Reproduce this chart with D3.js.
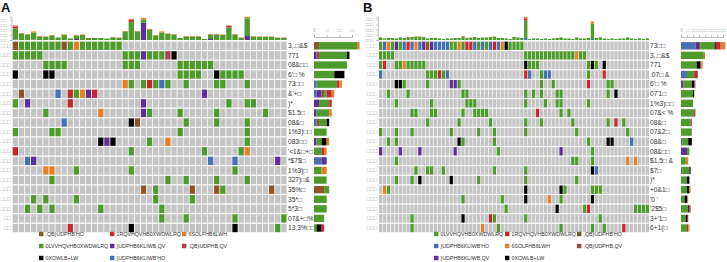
<!DOCTYPE html>
<html lang="en">
<head>
<meta charset="UTF-8">
<title>Oncoprint</title>
<style>
body { margin: 0; background: #fff; }
svg { font-family: "Liberation Sans", Arial, sans-serif; }
.axis path, .axis line { stroke: #999; stroke-width: 0.6; }
.axis text { fill: #aaa; font-size: 4.5px; }
</style>
</head>
<body>
<svg width="727" height="262"></svg>
<script src="https://cdnjs.cloudflare.com/ajax/libs/d3/7.8.5/d3.min.js"></script>
<script>
// codes: b FS_Del, p FS_Ins, n IF_Del, i IF_Ins, g Missense, k Multi, r Nonsense, o Splice
var typeKeys = ['b', 'p', 'n', 'i', 'g', 'k', 'r', 'o'];
var typeNames = {
    b: ")UDPHB6KLIWB'HO", p: ')UDPHB6KLIWB,QV', n: ",QB)UDPHB'HO", i: ',QB)UDPHB,QV',
    g: '0LVVHQVHB0XWDWLRQ', k: '0XOWLB+LW', r: '1RQVHQVHB0XWDWLRQ', o: '6SOLFHB6LWH'
};
var colors = {
    b: '#4670B3', p: '#5E3096', n: '#8E5428', i: '#B13D52',
    g: '#4E9A2C', k: '#000000', r: '#C62630', o: '#E3802A'
};

// ---------- panel A ----------
var genesA = ['3,.\u25A1&$', '771', '08&\u25A1\u25A1', "6'\u25A1 %", '73\u25A1\u25A1', "&'+\u25A1", ')*', '$1.5\u25A1',
    '08&\u25A1', '1%3)\u25A1\u25A1', '083\u25A1\u25A1', "'<1&\u25A1+\u25A1", '*$7$\u25A1', '1%3)\u25A1', '327)\u25A1&',
    '35%\u25A1', '35*\u25A1', '5*3\u25A1', '07&+\u25A1%', '13,3%\u25A1\u25A1'];
var pctA = ['\u25A1\u25A1\u25A1', '\u25A1\u25A1\u25A1', '\u25A1\u25A1\u25A1', '\u25A1\u25A1\u25A1', '\u25A1\u25A1\u25A1',
    '\u25A1\u25A1\u25A1', '\u25A1\u25A1\u25A1', '\u25A1\u25A1\u25A1', '\u25A1\u25A1\u25A1', '\u25A1\u25A1\u25A1',
    '\u25A1\u25A1\u25A1', '\u25A1\u25A1\u25A1', '\u25A1\u25A1\u25A1', '\u25A1\u25A1\u25A1', '\u25A1\u25A1\u25A1',
    '\u25A1\u25A1\u25A1', '\u25A1\u25A1\u25A1', '\u25A1\u25A1\u25A1', '\u25A1\u25A1', '\u25A1\u25A1'];
var mutA = [
    'ngggg gggng ogggg ggg.. ..... ..... ..... ..... .....',
    'ggggg ..... ..... ...gg gpggg ik... ..... ..... .....',
    '..... gggg. ..... ...gg g.... ..ggg ggg.. ..... .....',
    'k.... kk... ..... ..... ..... ..ggg g..kg ggg.. .....',
    '..... ..... ..... ...og .grgb g..g. ...gg ...g. .....',
    '.n... ..b.r gopr. ..... ..... ..... .p... ..... .....',
    'g.p.. ....r ..... ..... .p... ..... ..... g..gg .....',
    '..... g.... ....o ..... .pg.. ..g.. ...g. ..... .g...',
    '..... ...b. ..... ....k n.... ...g. ...g. ...g. .....',
    'g.... .gg.. ..... ..... ..... ..g.. ..... ...g. .....',
    '..... ..... ....k pk... ..g.. o.... ..... ...g. .....',
    'r.... ..... ..... ....g ..... ..... .g... ..go. .....',
    '..bp. ..... ..... ..... ..... ..... ..b.. .b... ...p.',
    '..... oo... g.... ....g ..... ..... ..... .g... .....',
    '..... .g... ..... ..... ..... g..g. ...g. ...g. .....',
    '..... ..... ..... ..... .n.g. ....n ...ng ..... ..n..',
    '...g. g.... g.... ..... ...g. ....g ..... ..... .....',
    '..g.g .g... ....g ..... ....g ..... ..... ..... .....',
    '..... ..... ..... ..... ....g ...g. ..... .g... ....g',
    '..... ....r ..... ....k ..... ..... ..... .k... ...g.'
];
// mutations per sample (top bars)
var topFsA  = [1,0,0,1,0, 0,0,0,0,0, 2,0,0,0,0, 0,0,0,0,0, 0,34,0,0,0, 0,0,0,0,0, 0,0,2,0,0, 0,0,0,8,0, 0,0,0,0,0];
var topMisA = [22,13,11,14,7, 6,9,5,10,3, 7,10,4,4,4, 3,5,4,17,36, 17,7,20,9,15, 12,11,4,7,7, 7,2,9,11,10, 25,11,4,35,7, 6,6,6,4,4];
var topNonA = [4,0,0,0,0, 0,0,0,0,0, 0,0,0,0,0, 0,0,0,0,4, 0,0,0,0,0, 0,0,0,0,0, 0,0,0,0,0, 3,0,0,0,0, 0,0,0,0,0];
var topSplA = [2,1,1,2,1, 1,1,0,1,0, 1,1,0,0,0, 0,1,1,1,2, 1,3,2,1,2, 1,1,0,1,1, 1,0,1,1,1, 1,1,1,3,1, 1,1,1,1,1];
var sideTicksA = [0, 5, 10, 15];
var sideTickLabelsA = ['0', '\u25A1', '\u25A1\u25A1', '\u25A1\u25A1'];
var legendA = ['n', 'r', 'o', 'g', 'p', 'i', 'k', 'b'];

// ---------- panel B ----------
var genesB = ['73\u25A1\u25A1', '3,.\u25A1&$', '771', '.07\u25A1 &', "6'\u25A1 %", "07'1\u25A1", '1%3)\u25A1\u25A1', '07&< %',
    '08&\u25A1', '07&2\u25A1', '08&\u25A1', '08&\u25A1\u25A1', '$1.5\u25A1 &', '$7\u25A1', ')*', '+0&1\u25A1', "'0 '",
    "'2$5\u25A1", "3+'1\u25A1", '6+1(\u25A1'];
var pctB = pctA.map(function() { return '\u25A1\u25A1\u25A1'; });
var mutB = [
    'gbogp gbrbo bpnpb bbbgg ogrrb gbgbr bokgg gg... ..... ..... ..... ..... ..... ....',
    'gggg. ..... ..... ..... ..... ..... ..... ..ggg ggggg ggggg ogg.. ..... ..... ....',
    'gr..g goggg gg... ..... ..... ..... ..... ..kgg g.... ..... ...gk g.k.. ..... ....',
    'b.... ..... ..ggg rgb.. ..... ..... ..... ..rb. .gbb. ..... ...g. ..r.. ..... ....',
    '....k kg... ..g.. ...pp g.... ..... ..... ..... .g..g ..... ...r. ...gg ..... ....',
    '..g.. ..g.. ..... ..... .gg.. ..... ..... ..g.g .g... gg... ..... ...g. k.... ....',
    '....g ..... ...g. ..... ..ggg ..... ..... ..g.. ..g.. gg... ...g. ..... ..... ....',
    '..... ...gg ...gg ..... .g..g ggg.. ..... ..... r.... .g.g. ..... ..... ..... ....',
    '..... ..... ..g.. ..... g.... ...g. ..... ..g.. .g... ....g ..... ...g. r.g.. ....',
    'g...g ...g. ..... ...g. ..... g...g ..... ..g.. ..... ..... g.... ..... ...g. ....',
    '..g.g ..... ..... ..... kg... ....g ..... ..... ..... ..... ...g. ...kk ....b ....',
    'p.... p.... p.... ....p ..... ..... g.... ..... ..... .p... ....g ..... ..... ....',
    '....g ..... ..... ..... ..... ..... ..... ..... ..... ....g g...g ..... ...o. o...',
    '..... ....g ..gg. .g... ..... ....g ..... ..g.. ..... ..... ....k b.... ..... ....',
    '....g ...g. k.... ...k. ..... g.... ..... ..g.. ..... ..... g.... ..... ..... ....',
    '.og.. ..... ..... ..... ..... ..... ..... ..k.. ..... .kg.. ....g gg... ..... ....',
    '..... ..... ..... ..... .g... ..... .g... ..k.. ...o. .g... ....k ..... ..... ....',
    '..... ..... ..... ..... ..... ..... ..g.. ..... ..... k.... ..gr. ..... ..... gggg',
    '..... ...g. ..... ..... .k... ...rg ..... ..g.. ..... ..... ..... .g... ..... ....',
    '..... ...g. ..... ..... ..... .o... g.... ..... ..... .g... ....g ..g.. ..r.. ....'
];
var topFsB  = [0,1,0,0,0, 0,0,0,1,0, 0,0,0,0,0, 0,0,0,0,0, 0,0,0,0,0, 0,0,0,0,0, 0,0,0,0,0, 0,0,4,0,0, 0,0,0,0,0, 0,0,0,0,0, 0,0,0,0,2, 0,0,0,0,0, 0,0,0,0,0, 0,0,0,0];
var topMisB = [5,2,4,4,3, 5,4,5,5,6, 6,6,3,4,4, 3,2,3,3,4, 4,6,4,4,6, 4,5,5,6,6, 4,4,3,2,6, 5,4,34,2,3, 3,2,3,2,3, 4,5,3,3,2, 5,3,3,4,30, 4,5,3,2,3, 2,3,3,5,3, 2,3,2,3];
var topNonB = [0,0,0,0,0, 0,0,1,0,0, 0,0,0,0,0, 0,0,0,0,0, 0,0,0,0,0, 0,0,0,0,0, 0,0,0,0,0, 0,0,4,0,0, 0,0,0,0,0, 0,0,0,0,0, 0,0,0,0,0, 0,0,0,0,0, 0,0,0,0,0, 0,0,0,0];
var topSplB = [0,0,0,0,0, 0,0,0,0,1, 1,0,0,0,0, 0,0,0,0,0, 0,2,0,1,0, 0,0,0,0,1, 0,0,0,0,0, 0,0,3,0,0, 0,0,0,0,0, 0,0,0,0,0, 0,0,0,0,4, 0,1,0,0,0, 0,0,0,0,0, 0,0,0,0];
var sideTicksB = [0, 5, 10, 15, 20, 25, 30, 35];
var sideTickLabelsB = ['0', '\u25A1', '\u25A1\u25A1', '\u25A1\u25A1', '\u25A1\u25A1', '\u25A1\u25A1', '\u25A1\u25A1', '\u25A1\u25A1'];
var legendB = ['g', 'r', 'n', 'b', 'o', 'i', 'p', 'k'];

var svg = d3.select('svg');
var cellGray = '#C4C4C4';

function drawPanel(p) {
    var rows = p.muts.map(function(s) { return s.replace(/ /g, '').split(''); });
    var nCols = rows[0].length;
    var g = svg.append('g');

    var x = d3.scaleBand().domain(d3.range(nCols)).range([p.gx0, p.gx1]).paddingInner(p.padX);
    var y = d3.scaleBand().domain(d3.range(rows.length)).range([41.6, 232.2]).paddingInner(0.13);

    // grid
    rows.forEach(function(row, r) {
        g.append('g').selectAll('rect')
            .data(row)
            .enter().append('rect')
            .attr('x', function(d, c) { return x(c); })
            .attr('y', y(r))
            .attr('width', x.bandwidth())
            .attr('height', y.bandwidth())
            .attr('fill', function(d) { return d === '.' ? cellGray : colors[d]; });
    });

    // top bars
    var topData = p.topMis.map(function(v, i) {
        return { col: i, fs: p.topFs[i], mis: v, non: p.topNon[i], spl: p.topSpl[i] };
    });
    var topKeys = ['fs', 'mis', 'non', 'spl'];
    var topColor = { fs: p.fsColor, mis: colors.g, non: colors.r, spl: colors.o };
    var yTop = d3.scaleLinear()
        .domain([0, d3.max(topData, function(d) { return d.fs + d.mis + d.non + d.spl; })])
        .range([40, 16.8]);
    var stackTop = d3.stack().keys(topKeys)(topData);
    g.append('g').selectAll('g')
        .data(stackTop)
        .enter().append('g')
        .attr('fill', function(s) { return topColor[s.key]; })
        .selectAll('rect')
        .data(function(s) { return s; })
        .enter().append('rect')
        .attr('x', function(d) { return x(d.data.col); })
        .attr('width', x.bandwidth())
        .attr('y', function(d) { return yTop(d[1]); })
        .attr('height', function(d) { return yTop(d[0]) - yTop(d[1]); });

    g.append('g')
        .attr('class', 'axis')
        .attr('transform', 'translate(' + (p.gx0 - 1.2) + ',0)')
        .call(d3.axisLeft(yTop).ticks(5).tickSize(1.5).tickFormat(function() { return '\u25A1\u25A1\u25A1'; }));

    // left percentage labels
    g.append('g').selectAll('text')
        .data(p.pcts)
        .enter().append('text')
        .attr('x', p.gx0 - 2)
        .attr('y', function(d, i) { return y(i) + y.bandwidth() / 2 + 1.8; })
        .attr('text-anchor', 'end')
        .attr('font-size', 5.5)
        .attr('fill', '#aaa')
        .text(function(d) { return d; });

    // gene labels
    g.append('g').selectAll('text')
        .data(p.genes)
        .enter().append('text')
        .attr('x', p.labelX)
        .attr('y', function(d, i) { return y(i) + y.bandwidth() / 2 + 2.3; })
        .attr('font-size', 6.6)
        .attr('fill', '#333')
        .text(function(d) { return d; });

    // side bars: counts per gene by type
    var sideData = rows.map(function(row, r) {
        var o = { row: r };
        typeKeys.forEach(function(k) { o[k] = row.filter(function(c) { return c === k; }).length; });
        return o;
    });
    var xs = d3.scaleLinear().domain([0, p.sideMax]).range([p.sx0, p.sx1]);
    var stackSide = d3.stack().keys(typeKeys)(sideData);
    g.append('g').selectAll('g')
        .data(stackSide)
        .enter().append('g')
        .attr('fill', function(s) { return colors[s.key]; })
        .selectAll('rect')
        .data(function(s) { return s; })
        .enter().append('rect')
        .attr('x', function(d) { return xs(d[0]); })
        .attr('width', function(d) { return xs(d[1]) - xs(d[0]); })
        .attr('y', function(d) { return y(d.data.row) + 0.5; })
        .attr('height', y.bandwidth() - 1);

    g.append('g')
        .attr('class', 'axis')
        .attr('transform', 'translate(0,37)')
        .call(d3.axisTop(xs).tickValues(p.sideTicks).tickSize(2)
            .tickFormat(function(d, i) { return p.sideTickLabels[i]; }));

    // panel letter
    svg.append('text')
        .attr('x', p.letterX).attr('y', 12)
        .attr('font-size', 13).attr('font-weight', 'bold')
        .attr('fill', '#111')
        .text(p.letter);

    // legend
    var leg = g.append('g').selectAll('g')
        .data(p.legend)
        .enter().append('g')
        .attr('transform', function(d, i) {
            return 'translate(' + p.legX[i % 3] + ',' + (234 + Math.floor(i / 3) * 12) + ')';
        });
    leg.append('rect')
        .attr('x', 0).attr('y', -2.2)
        .attr('width', 4.4).attr('height', 4.4)
        .attr('fill', function(d) { return colors[d]; });
    leg.append('text')
        .attr('x', 6.5).attr('y', 2.1)
        .attr('font-size', 5.3)
        .attr('fill', '#333')
        .text(function(d) { return typeNames[d]; });
}

drawPanel({
    letter: 'A', letterX: 1,
    genes: genesA, pcts: pctA, muts: mutA,
    topFs: topFsA, topMis: topMisA, topNon: topNonA, topSpl: topSplA, fsColor: colors.p,
    gx0: 12.7, gx1: 286.5, padX: 0.13, labelX: 288,
    sx0: 314, sx1: 352, sideMax: 15, sideTicks: sideTicksA, sideTickLabels: sideTickLabelsA,
    legend: legendA, legX: [39, 110, 182]
});

drawPanel({
    letter: 'B', letterX: 363,
    genes: genesB, pcts: pctB, muts: mutB,
    topFs: topFsB, topMis: topMisB, topNon: topNonB, topSpl: topSplB, fsColor: colors.b,
    gx0: 379, gx1: 649, padX: 0.16, labelX: 650,
    sx0: 681, sx1: 723, sideMax: 35, sideTicks: sideTicksB, sideTickLabels: sideTickLabelsB,
    legend: legendB, legX: [434, 505, 577]
});
</script>
</body>
</html>
